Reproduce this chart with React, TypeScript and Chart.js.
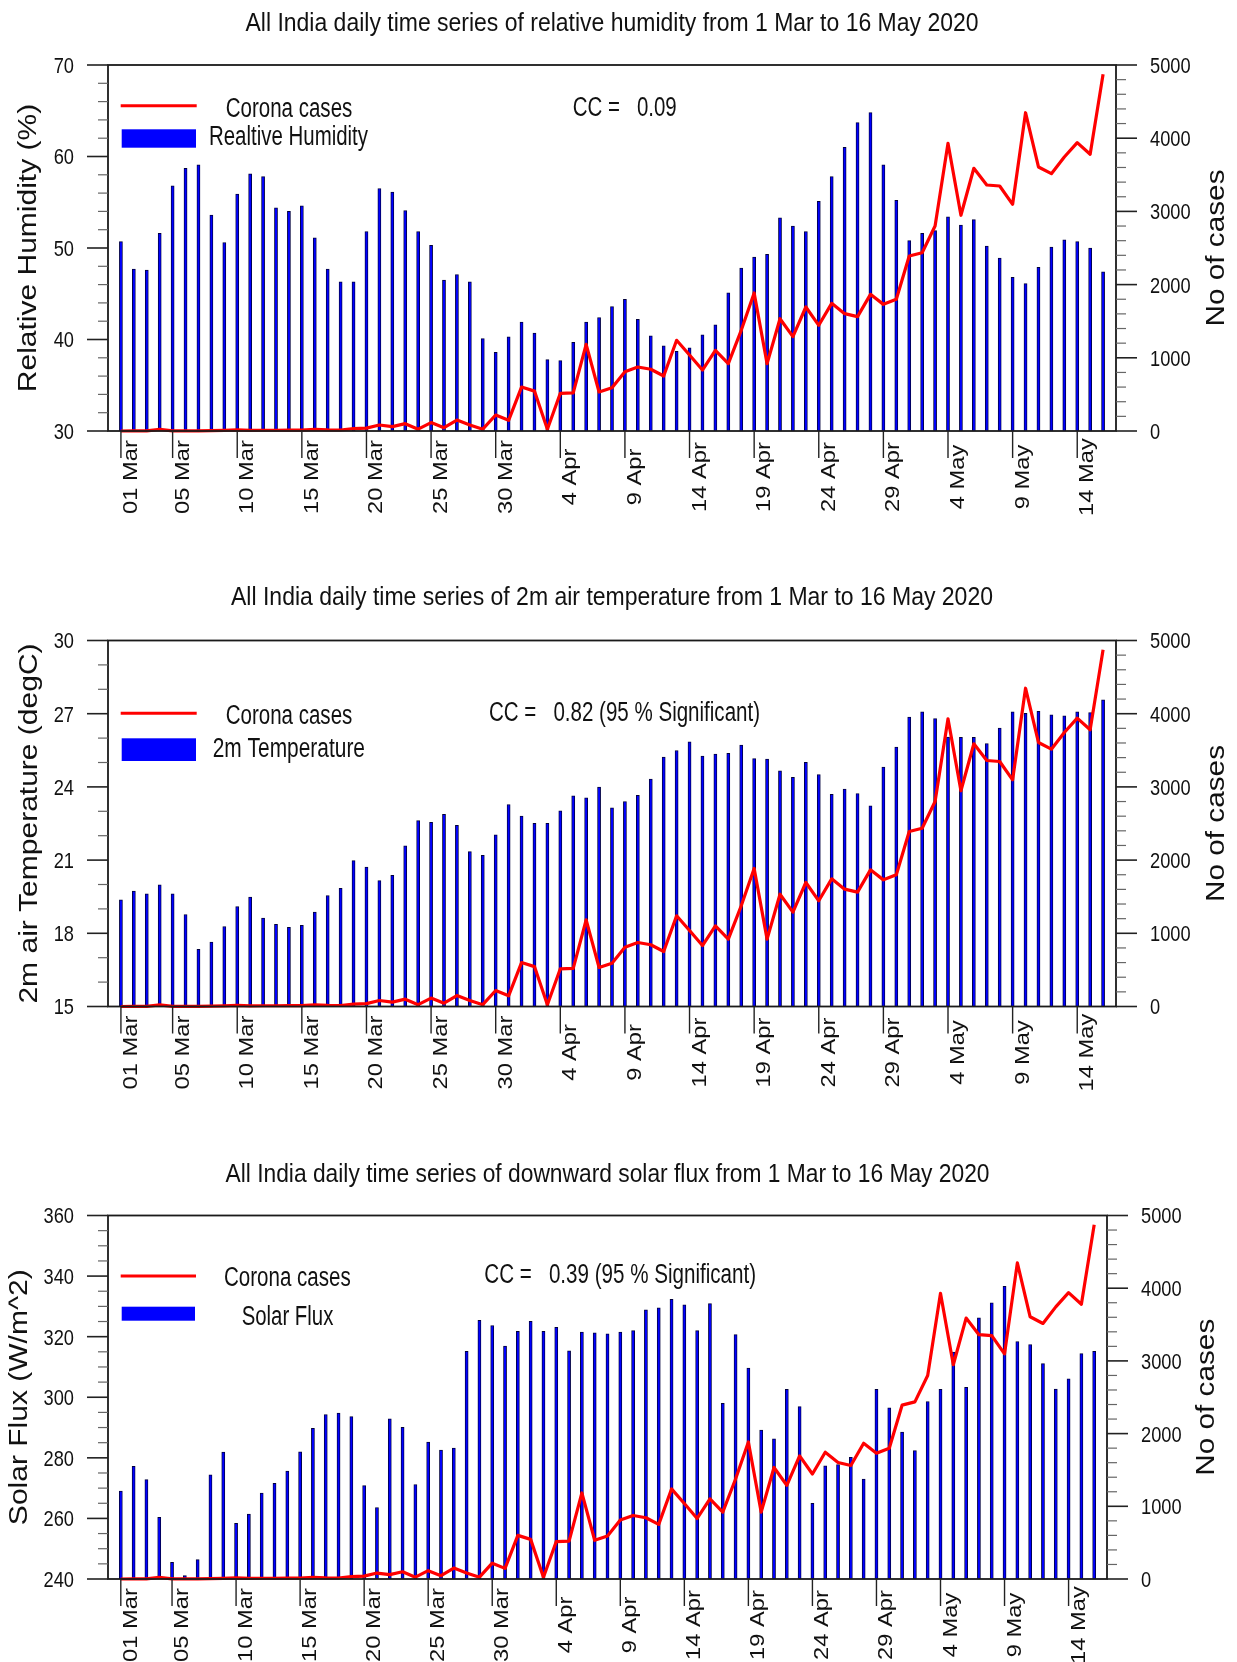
import React, { useEffect, useRef } from "react";
import { Chart, registerables } from "chart.js";

Chart.register(...registerables);

// ---------------- DATA ----------------
const tickIndices = [0, 4, 9, 14, 19, 24, 29, 34, 39, 44, 49, 54, 59, 64, 69, 74];
const tickLabels = ["01 Mar", "05 Mar", "10 Mar", "15 Mar", "20 Mar", "25 Mar", "30 Mar", "4 Apr", "9 Apr", "14 Apr", "19 Apr", "24 Apr", "29 Apr", "4 May", "9 May", "14 May"];

// daily corona cases, 1 Mar .. 16 May 2020
const cases = [
  0, 2, 1, 22, 2, 1, 3, 5, 9, 15,
  8, 10, 10, 12, 11, 23, 16, 14, 32, 40,
  82, 60, 100, 25, 115, 45, 150, 82, 25, 218,
  146, 600, 545, 25, 515, 520, 1184, 533, 592, 810,
  874, 843, 751, 1239, 1038, 833, 1102, 920, 1375, 1885,
  920, 1534, 1289, 1694, 1444, 1744, 1603, 1562, 1867, 1730,
  1799, 2391, 2436, 2800, 3930, 2947, 3589, 3361, 3347, 3097,
  4348, 3607, 3515, 3743, 3939, 3780, 4873,
];

const humidity = [
  50.7, 47.7, 47.6, 51.6, 56.8, 58.7, 59.1, 53.6, 50.6, 55.9,
  58.1, 57.8, 54.4, 54.0, 54.6, 51.1, 47.7, 46.3, 46.3, 51.8,
  56.5, 56.1, 54.1, 51.8, 50.3, 46.5, 47.1, 46.3, 40.1, 38.6,
  40.3, 41.9, 40.7, 37.8, 37.7, 39.7, 41.9, 42.4, 43.6, 44.4,
  42.2, 40.4, 39.3, 38.7, 39.1, 40.5, 41.6, 45.1, 47.8, 49.0,
  49.3, 53.3, 52.4, 51.8, 55.1, 57.8, 61.0, 63.7, 64.8, 59.1,
  55.2, 50.8, 51.6, 51.9, 53.4, 52.5, 53.1, 50.2, 48.9, 46.8,
  46.1, 47.9, 50.1, 50.9, 50.7, 50.0, 47.4,
];

const temperature = [
  19.37, 19.73, 19.62, 19.99, 19.62, 18.77, 17.34, 17.64, 18.28, 19.10,
  19.48, 18.62, 18.37, 18.24, 18.33, 18.87, 19.55, 19.84, 20.98, 20.71,
  20.16, 20.38, 21.58, 22.62, 22.55, 22.88, 22.43, 21.35, 21.20, 22.04,
  23.28, 22.80, 22.51, 22.51, 23.02, 23.63, 23.55, 23.99, 23.14, 23.40,
  23.65, 24.32, 25.22, 25.49, 25.85, 25.26, 25.34, 25.38, 25.71, 25.16,
  25.14, 24.66, 24.39, 25.01, 24.51, 23.70, 23.91, 23.73, 23.22, 24.81,
  25.63, 26.86, 27.08, 26.80, 26.04, 26.03, 26.03, 25.78, 26.41, 27.08,
  27.02, 27.10, 26.95, 26.91, 27.08, 27.05, 27.57,
];

const solarFlux = [
  269.0, 277.2, 272.8, 260.4, 245.5, 241.1, 246.4, 274.4, 281.9, 258.4,
  261.4, 268.4, 271.6, 275.6, 282.0, 289.7, 294.3, 294.8, 293.6, 270.8,
  263.6, 292.9, 290.1, 271.2, 285.2, 282.6, 283.2, 315.2, 325.4, 323.7,
  316.9, 321.8, 325.1, 321.8, 323.1, 315.3, 321.5, 321.3, 320.9, 321.5,
  322.0, 328.9, 329.5, 332.3, 330.5, 322.0, 330.9, 298.0, 320.7, 309.6,
  289.2, 286.3, 302.6, 296.9, 265.0, 277.4, 277.8, 280.2, 273.0, 302.6,
  296.5, 288.5, 282.4, 298.6, 302.6, 314.9, 303.3, 326.2, 331.2, 336.6,
  318.4, 317.4, 311.1, 302.7, 306.1, 314.4, 315.2,
];

const humidityTicks = [30, 40, 50, 60, 70];
const temperatureTicks = [15, 18, 21, 24, 27, 30];
const solarTicks = [240, 260, 280, 300, 320, 340, 360];
const caseTicks = [0, 1000, 2000, 3000, 4000, 5000];

// ---------------- LAYOUT / STYLE ----------------
const W = 1237;
const H = 1662;
const FONT = '"Liberation Sans", Arial, Helvetica, sans-serif';
const INK = "#111111";

type Panel = {
  key: string;
  values: number[];
  yTicks: number[];
  minorStep: number;
  area: { left: number; top: number; right: number; bottom: number };
  title: string;
  titleBaseline: number;
  titleWidth: number;
  yTitle: string;
  yTitleX: number;
  rightTitleX: number;
  legendLineY: number;
  legendLineX2: number;
  coronaX: number;
  coronaBaseline: number;
  coronaWidth: number;
  rect: { x: number; y: number; w: number; h: number };
  barLabel: string;
  barLabelX: number;
  barLabelBaseline: number;
  barLabelWidth: number;
  cc: string;
  ccX: number;
  ccBaseline: number;
  ccWidth: number;
};

const panels: Panel[] = [
  {
    key: "rh",
    values: humidity,
    yTicks: humidityTicks,
    minorStep: 2,
    area: { left: 108, top: 65, right: 1116, bottom: 431 },
    title: "All India daily time series of relative humidity from 1 Mar to 16 May 2020",
    titleBaseline: 30.5,
    titleWidth: 733,
    yTitle: "Relative Humidity (%)",
    yTitleX: 27,
    rightTitleX: 1215,
    legendLineY: 105.7,
    legendLineX2: 196.7,
    coronaX: 225.7,
    coronaBaseline: 116.7,
    coronaWidth: 126.6,
    rect: { x: 121.7, y: 129.3, w: 74.3, h: 18.4 },
    barLabel: "Realtive Humidity",
    barLabelX: 209,
    barLabelBaseline: 145,
    barLabelWidth: 159,
    cc: "CC =   0.09",
    ccX: 572.7,
    ccBaseline: 116,
    ccWidth: 104,
  },
  {
    key: "t2m",
    values: temperature,
    yTicks: temperatureTicks,
    minorStep: 1,
    area: { left: 108, top: 640.5, right: 1116, bottom: 1006.5 },
    title: "All India daily time series of 2m air temperature from 1 Mar to 16 May 2020",
    titleBaseline: 605.3,
    titleWidth: 762,
    yTitle: "2m air Temperature (degC)",
    yTitleX: 27.5,
    rightTitleX: 1215,
    legendLineY: 713.3,
    legendLineX2: 196.7,
    coronaX: 225.7,
    coronaBaseline: 724,
    coronaWidth: 126.6,
    rect: { x: 121.7, y: 738.3, w: 74.3, h: 22.7 },
    barLabel: "2m Temperature",
    barLabelX: 212.7,
    barLabelBaseline: 756.7,
    barLabelWidth: 152.3,
    cc: "CC =   0.82 (95 % Significant)",
    ccX: 489,
    ccBaseline: 720.7,
    ccWidth: 271,
  },
  {
    key: "sw",
    values: solarFlux,
    yTicks: solarTicks,
    minorStep: 5,
    area: { left: 108, top: 1215.5, right: 1107, bottom: 1579 },
    title: "All India daily time series of downward solar flux from 1 Mar to 16 May 2020",
    titleBaseline: 1181.7,
    titleWidth: 764,
    yTitle: "Solar Flux (W/m^2)",
    yTitleX: 18,
    rightTitleX: 1205,
    legendLineY: 1276,
    legendLineX2: 196,
    coronaX: 224,
    coronaBaseline: 1286,
    coronaWidth: 126.7,
    rect: { x: 121.7, y: 1306.7, w: 73.3, h: 14 },
    barLabel: "Solar Flux",
    barLabelX: 241.7,
    barLabelBaseline: 1325,
    barLabelWidth: 91.6,
    cc: "CC =   0.39 (95 % Significant)",
    ccX: 484.3,
    ccBaseline: 1283.3,
    ccWidth: 271.7,
  },
];

// ---------------- TEXT HELPERS ----------------
function drawScaled(ctx: CanvasRenderingContext2D, text: string, x: number, y: number, size: number, sx: number, align: CanvasTextAlign) {
  ctx.save();
  ctx.translate(x, y);
  ctx.scale(sx, 1);
  ctx.font = `${size}px ${FONT}`;
  ctx.fillStyle = INK;
  ctx.textAlign = align;
  ctx.textBaseline = "alphabetic";
  ctx.fillText(text, 0, 0);
  ctx.restore();
}

function drawFitted(ctx: CanvasRenderingContext2D, text: string, x: number, y: number, size: number, width: number, align: CanvasTextAlign) {
  ctx.save();
  ctx.font = `${size}px ${FONT}`;
  const w = ctx.measureText(text).width;
  ctx.restore();
  drawScaled(ctx, text, x, y, size, width / w, align);
}

function drawVertical(ctx: CanvasRenderingContext2D, text: string, baseX: number, cy: number, size: number, stretch: number) {
  ctx.save();
  ctx.translate(baseX, cy);
  ctx.rotate(-Math.PI / 2);
  ctx.scale(stretch, 1);
  ctx.font = `${size}px ${FONT}`;
  ctx.fillStyle = INK;
  ctx.textAlign = "center";
  ctx.textBaseline = "alphabetic";
  ctx.fillText(text, 0, 0);
  ctx.restore();
}

function isMajor(v: number, majors: number[]) {
  return majors.some((m) => Math.abs(m - v) < 1e-6);
}

function makeDecor(p: Panel) {
  return {
    id: "ncl-decor-" + p.key,
    afterDraw(chart: any) {
      const ctx: CanvasRenderingContext2D = chart.ctx;
      const a = chart.chartArea;
      const xs = chart.scales.x;
      const ys = chart.scales.y;
      const y1 = chart.scales.y1;
      ctx.save();

      // frame
      ctx.strokeStyle = "#1a1a1a";
      ctx.lineWidth = 1.8;
      ctx.strokeRect(a.left, a.top, a.right - a.left, a.bottom - a.top);

      // left axis ticks + labels
      const yMin = p.yTicks[0];
      const yMax = p.yTicks[p.yTicks.length - 1];
      const nMinor = Math.round((yMax - yMin) / p.minorStep);
      for (let k = 0; k <= nMinor; k++) {
        const v = yMin + k * p.minorStep;
        const py = ys.getPixelForValue(v);
        const major = isMajor(v, p.yTicks);
        ctx.beginPath();
        ctx.strokeStyle = major ? "#222" : "#666";
        ctx.lineWidth = major ? 1.6 : 1.2;
        ctx.moveTo(a.left, py);
        ctx.lineTo(a.left - (major ? 21 : 10), py);
        ctx.stroke();
      }
      p.yTicks.forEach((v) => {
        const py = ys.getPixelForValue(v);
        drawScaled(ctx, String(v), a.left - 34, py + 7.9, 22, 0.83, "right");
      });

      // right axis ticks + labels
      const cMax = caseTicks[caseTicks.length - 1];
      for (let v = 0; v <= cMax; v += 200) {
        const py = y1.getPixelForValue(v);
        const major = isMajor(v, caseTicks);
        ctx.beginPath();
        ctx.strokeStyle = major ? "#222" : "#666";
        ctx.lineWidth = major ? 1.6 : 1.2;
        ctx.moveTo(a.right, py);
        ctx.lineTo(a.right + (major ? 21 : 10), py);
        ctx.stroke();
      }
      caseTicks.forEach((v) => {
        const py = y1.getPixelForValue(v);
        drawScaled(ctx, String(v), a.right + 34, py + 7.9, 22, 0.83, "left");
      });

      // bottom ticks + rotated labels
      tickIndices.forEach((idx, i) => {
        const px = xs.getPixelForValue(idx);
        ctx.beginPath();
        ctx.strokeStyle = "#222";
        ctx.lineWidth = 1.4;
        ctx.moveTo(px, a.bottom);
        ctx.lineTo(px, a.bottom + 27);
        ctx.stroke();
        drawVertical(ctx, tickLabels[i], px + 16, a.bottom + 46, 21, 1.13);
      });

      // titles
      drawFitted(ctx, p.title, (a.left + a.right) / 2, p.titleBaseline, 26, p.titleWidth, "center");
      drawVertical(ctx, p.yTitle, p.yTitleX + 9, (a.top + a.bottom) / 2, 25, 1.2);
      drawVertical(ctx, "No of cases", p.rightTitleX + 9, (a.top + a.bottom) / 2, 25, 1.19);

      // legend
      ctx.beginPath();
      ctx.strokeStyle = "#ff0000";
      ctx.lineWidth = 3;
      ctx.moveTo(120.7, p.legendLineY);
      ctx.lineTo(p.legendLineX2, p.legendLineY);
      ctx.stroke();
      ctx.fillStyle = "#0000ff";
      ctx.fillRect(p.rect.x, p.rect.y, p.rect.w, p.rect.h);
      drawFitted(ctx, "Corona cases", p.coronaX, p.coronaBaseline, 27, p.coronaWidth, "left");
      drawFitted(ctx, p.barLabel, p.barLabelX, p.barLabelBaseline, 27, p.barLabelWidth, "left");
      drawFitted(ctx, p.cc, p.ccX, p.ccBaseline, 27, p.ccWidth, "left");

      ctx.restore();
    },
  };
}

function PanelChart({ p }: { p: Panel }) {
  const ref = useRef<HTMLCanvasElement>(null);
  useEffect(() => {
    const canvas = ref.current;
    if (!canvas) return;
    const yMin = p.yTicks[0];
    const yMax = p.yTicks[p.yTicks.length - 1];
    const chart = new Chart(canvas, {
      type: "bar",
      data: {
        datasets: [
          {
            type: "line",
            label: "Corona cases",
            data: cases.map((c, i) => ({ x: i, y: c })),
            yAxisID: "y1",
            xAxisID: "x",
            borderColor: "#ff0000",
            borderWidth: 3.2,
            pointRadius: 0,
            tension: 0,
            borderJoinStyle: "round",
            fill: false,
            order: 0,
            clip: 4,
          } as any,
          {
            type: "bar",
            label: p.barLabel,
            data: p.values.map((v, i) => ({ x: i, y: v })),
            yAxisID: "y",
            xAxisID: "x",
            backgroundColor: "#0000ff",
            borderColor: "#00003c",
            borderWidth: { left: 0.9, right: 0.9, top: 1, bottom: 0 },
            borderSkipped: false,
            barThickness: 3.1,
            order: 1,
          } as any,
        ],
      },
      options: {
        responsive: false,
        animation: false,
        devicePixelRatio: 1,
        layout: {
          padding: {
            left: p.area.left,
            top: p.area.top,
            right: W - p.area.right,
            bottom: H - p.area.bottom,
          },
        },
        plugins: {
          legend: { display: false },
          title: { display: false },
          tooltip: { enabled: false },
        },
        scales: {
          x: { type: "linear", min: -1, max: 77, offset: false, display: false },
          y: { type: "linear", min: yMin, max: yMax, display: false },
          y1: { type: "linear", position: "right", min: 0, max: 5000, display: false },
        },
      } as any,
      plugins: [makeDecor(p)],
    });
    return () => chart.destroy();
  }, [p]);
  return (
    <canvas
      ref={ref}
      width={W}
      height={H}
      style={{ position: "absolute", left: 0, top: 0, width: W, height: H }}
    />
  );
}

export default function App() {
  return (
    <div
      style={{
        position: "absolute",
        left: 0,
        top: 0,
        width: W,
        height: H,
        background: "#ffffff",
        overflow: "hidden",
      }}
    >
      {panels.map((p) => (
        <PanelChart key={p.key} p={p} />
      ))}
    </div>
  );
}
